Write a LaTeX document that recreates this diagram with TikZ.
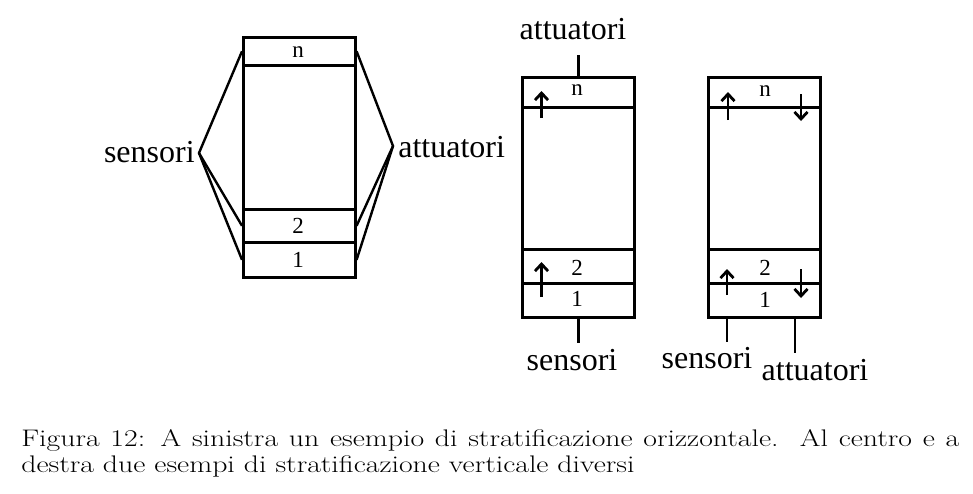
\documentclass[tikz,border=0pt]{standalone}
\usepackage{fontspec}
\newfontfamily\tms{Liberation Serif}
\newfontfamily\capfont[FakeStretch=1.24]{Latin Modern Roman}
\usetikzlibrary{arrows.meta}
\begin{document}
\begin{tikzpicture}[x=1pt,y=-1pt,line width=2.6pt,
  cell/.style={draw,rectangle,inner sep=0pt,anchor=north west,minimum width=#1},
  cell/.default=112pt,
  lbl/.style={font=\tms\fontsize{32}{36}\selectfont,inner sep=0pt},
  num/.style={font=\tms\fontsize{23}{26}\selectfont,inner sep=0pt,anchor=base},
  upar/.style={-{Straight Barb[length=7pt,width=13pt,line width=2.8pt]}},
  captxt/.style={anchor=base west,inner sep=0pt,font=\capfont\fontsize{24}{27}\selectfont}]
\useasboundingbox (0,0) rectangle (973,493);
% ---------- left ----------
\node[cell,minimum height=28pt] (Ln) at (242,36) {};
\node[cell,minimum height=144pt] (Lm) at (242,64) {};
\node[cell,minimum height=33pt] (L2) at (242,208) {};
\node[cell,minimum height=35pt] (L1) at (242,241) {};
\node[num] at (298,57) {n};
\node[num] at (298,233) {2};
\node[num] at (298,267) {1};
\node[lbl,anchor=base east] (sL) at (196,162) {sensori};
\node[lbl,anchor=base west] (aL) at (397,157) {attuatori};
\coordinate (apL) at (199,153);
\coordinate (apR) at (393,146);
\draw[line width=2.4pt] (Ln.west) -- (apL) -- (L2.west);
\draw[line width=2.4pt] (apL) -- (L1.west);
\draw[line width=2.4pt] (Ln.east) -- (apR) -- (L2.east);
\draw[line width=2.4pt] (apR) -- (L1.east);
% ---------- middle ----------
\node[cell,minimum height=30pt] (Mn) at (521,76) {};
\node[cell,minimum height=142pt] (Mm) at (521,106) {};
\node[cell,minimum height=34pt] (M2) at (521,248) {};
\node[cell,minimum height=34pt] (M1) at (521,282) {};
\node[num] at (577,95) {n};
\node[num] at (577,275) {2};
\node[num] at (577,306) {1};
\node[lbl,anchor=base] (aM) at (573,39) {attuatori};
\node[lbl,anchor=base] (sM) at (572,370) {sensori};
\coordinate (aMs) at (577,55);
\coordinate (sMs) at (577,343);
\draw (Mn.north) -- (Mn.north |- aMs);
\draw (M1.south) -- (M1.south |- sMs);
\draw[upar] (541.5,118) -- (541.5,91);
\draw[upar] (541.5,297) -- (541.5,262);
% ---------- right ----------
\node[cell,minimum height=30pt] (Rn) at (707,76) {};
\node[cell,minimum height=142pt] (Rm) at (707,106) {};
\node[cell,minimum height=34pt] (R2) at (707,248) {};
\node[cell,minimum height=34pt] (R1) at (707,282) {};
\node[num] at (765,96) {n};
\node[num] at (765,275) {2};
\node[num] at (765,307) {1};
\node[lbl,anchor=base] (sR) at (707,368) {sensori};
\node[lbl,anchor=base] (aR) at (815,380) {attuatori};
\coordinate (sRs) at (727,342);
\coordinate (aRs) at (795,353);
\draw (sRs |- R1.south) -- (sRs);
\draw (aRs |- R1.south) -- (aRs);
\draw[upar] (728,120) -- (728,92);
\draw[upar] (801,94) -- (801,121);
\draw[upar] (727,295) -- (727,269);
\draw[upar] (801,269) -- (801,298);
% ---------- caption ----------
\node[captxt] (c1) at (20,446.5)
  {\makebox[938pt][s]{Figura 12: A sinistra un esempio di stratificazione orizzontale.\ \ Al centro e a}};
\node[captxt] (c2) at (20,472)
  {destra due esempi di stratificazione verticale diversi};
\end{tikzpicture}
\end{document}
